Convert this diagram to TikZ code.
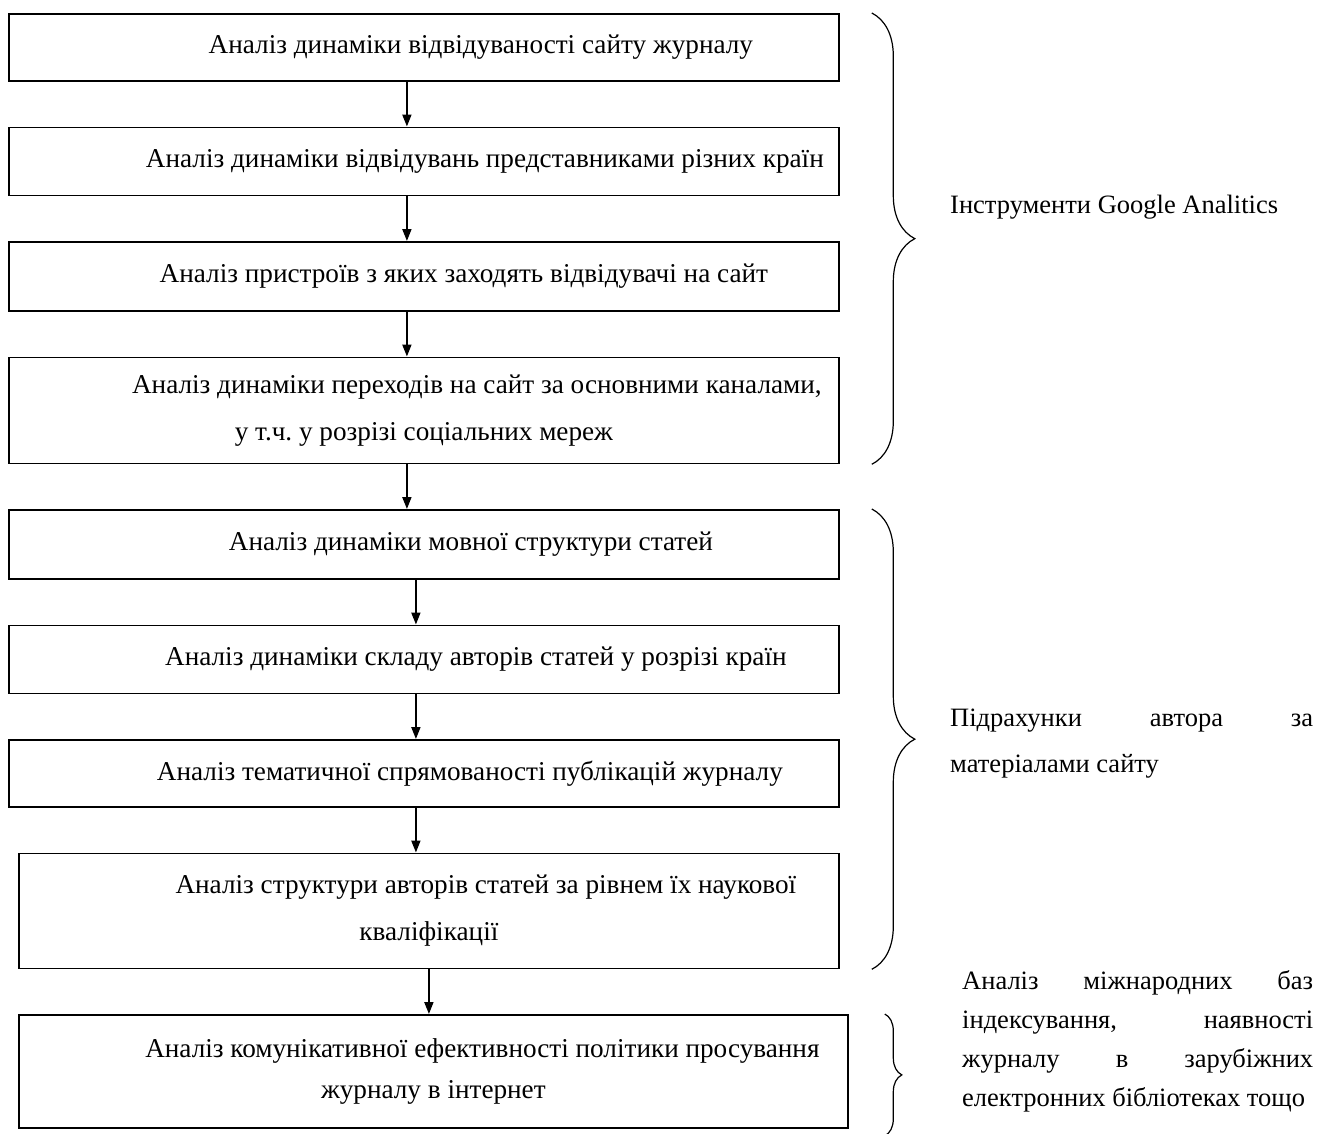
\documentclass[tikz,border=0pt]{standalone}
\usepackage{fontspec}
\setmainfont{Liberation Serif}
\usetikzlibrary{positioning,arrows.meta,decorations.pathreplacing}
\tikzset{
  >={Triangle[length=12pt,width=9pt]},
  box/.style={draw=black, line width=1.8pt, minimum width=830pt, minimum height=68pt,
              align=center, inner sep=0pt, font=\frenchspacing\fontsize{27.2}{47}\selectfont},
  note/.style={align=left, inner sep=0pt, font=\fontsize{26.5}{46}\selectfont},
  l/.style={->, line width=1.8pt},
  brc/.style={decorate, decoration={brace, amplitude=#1}, line width=1.2pt},
  brc/.default=43pt,
}

\begin{document}
\begin{tikzpicture}[x=1pt, y=1pt, node distance=44.7pt]
  \useasboundingbox (0,0) rectangle (1317,-1133);
  % first group
  \node[box, anchor=north west, minimum height=67pt] (a) at (8,-13)
    {\hspace*{114pt}Аналіз динаміки відвідуваності сайту журналу};
  \node[box, below=of a] (b)
    {\hspace*{122pt}Аналіз динаміки відвідувань представниками різних країн};
  \node[box, below=of b, minimum height=69pt] (c)
    {\hspace*{80pt}Аналіз пристроїв з яких заходять відвідувачі на сайт};
  \node[box, below=of c, minimum height=106pt] (d)
    {\hspace*{106pt}Аналіз динаміки переходів на сайт за основними каналами,\\у т.ч. у розрізі соціальних мереж};
  % second group
  \node[box, below=of d, minimum height=69pt] (e)
    {\hspace*{94pt}Аналіз динаміки мовної структури статей};
  \node[box, below=of e] (f)
    {\hspace*{104pt}Аналіз динаміки складу авторів статей у розрізі країн};
  \node[box, below=of f, minimum height=67pt] (g)
    {\hspace*{92pt}Аналіз тематичної спрямованості публікацій журналу};
  \node[box, below=of g.south east, anchor=north east, minimum width=820pt, minimum height=115pt] (h)
    {\hspace*{114pt}Аналіз структури авторів статей за рівнем їх наукової\\кваліфікації};
  % last box
  \node[box, below=of h.south west, anchor=north west, minimum width=829pt, minimum height=113pt,
        font=\frenchspacing\fontsize{27.2}{41}\selectfont] (i)
    {\hspace*{98pt}Аналіз комунікативної ефективності політики просування\\журналу в інтернет};
  \draw[l] ([xshift=-17pt]a.south) -- ([xshift=-17pt]b.north);
  \draw[l] ([xshift=-17pt]b.south) -- ([xshift=-17pt]c.north);
  \draw[l] ([xshift=-17pt]c.south) -- ([xshift=-17pt]d.north);
  \draw[l] ([xshift=-17pt]d.south) -- ([xshift=-17pt]e.north);
  \draw[l] ([xshift=-8pt]e.south) -- ([xshift=-8pt]f.north);
  \draw[l] ([xshift=-8pt]f.south) -- ([xshift=-8pt]g.north);
  \draw[l] ([xshift=-8pt]g.south) -- ([xshift=-13pt]h.north);
  \draw[l] (h.south) -- ([xshift=-4.5pt]i.north);
  % braces and notes
  \draw[brc] ([xshift=32pt]a.north east) -- ([xshift=32pt]d.south east);
  \draw[brc] ([xshift=32pt]e.north east) -- ([xshift=32pt]h.south east);
  \draw[brc=17pt] ([xshift=36pt]i.north east) -- ([xshift=36pt,yshift=-7pt]i.south east);
  \node[note, anchor=base west] (ga) at (950,-213) {Інструменти Google Analitics};
  \node[note, anchor=base west] (calc) at (950,-772)
    {\makebox[363pt][s]{Підрахунки автора за}\\матеріалами сайту};
  \node[note, anchor=base west, font=\fontsize{26.5}{39}\selectfont] (idx) at (962,-1106)
    {\makebox[351pt][s]{Аналіз міжнародних баз}\\\makebox[351pt][s]{індексування, наявності}\\
     \makebox[351pt][s]{журналу в зарубіжних}\\електронних бібліотеках тощо};
\end{tikzpicture}
\end{document}
